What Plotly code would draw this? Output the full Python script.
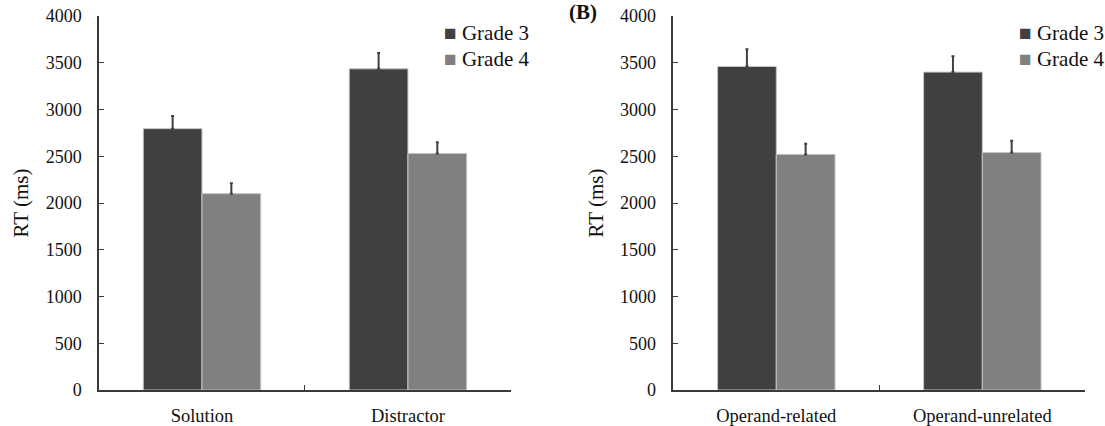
import plotly.graph_objects as go

# Reaction times (ms) by condition and grade, with upward standard-error bars
cond_a = ["Solution", "Distractor"]
g3_a = [2795, 3435]
g3_a_err = [135, 170]
g4_a = [2100, 2530]
g4_a_err = [110, 120]

cond_b = ["Operand-related", "Operand-unrelated"]
g3_b = [3460, 3400]
g3_b_err = [185, 170]
g4_b = [2520, 2540]
g4_b_err = [115, 125]

y_ticks = [0, 500, 1000, 1500, 2000, 2500, 3000, 3500, 4000]
series_names = ["Grade 3", "Grade 4"]

DARK = "#404040"
GRAY = "#808080"
AXIS = "#3a3a3a"
SERIF = "Liberation Serif"
colors = [DARK, GRAY]


def bar(name, x, y, err, color, xa, ya):
    return go.Bar(
        name=name, x=x, y=y, showlegend=False,
        marker=dict(color=color, line=dict(color="#c4c4c4", width=1)),
        error_y=dict(type="data", array=err, arrayminus=[0] * len(err),
                     symmetric=False, color=DARK, thickness=2, width=1.5),
        xaxis=xa, yaxis=ya,
    )


fig = go.Figure()
fig.add_trace(bar(series_names[0], cond_a, g3_a, g3_a_err, DARK, "x", "y"))
fig.add_trace(bar(series_names[1], cond_a, g4_a, g4_a_err, GRAY, "x", "y"))
fig.add_trace(bar(series_names[0], cond_b, g3_b, g3_b_err, DARK, "x2", "y2"))
fig.add_trace(bar(series_names[1], cond_b, g4_b, g4_b_err, GRAY, "x2", "y2"))

xcommon = dict(type="category", showline=True, linecolor=AXIS, linewidth=1.5,
               ticks="inside", tickson="boundaries", ticklen=5, tickcolor=AXIS,
               showgrid=False, zeroline=False, ticklabelstandoff=8,
               tickfont=dict(family=SERIF, size=18.5, color="#111"))
ycommon = dict(range=[0, 4000], tickvals=y_ticks, showline=True, linecolor=AXIS,
               linewidth=1.5, ticks="inside", ticklen=5, tickcolor=AXIS,
               showgrid=False, zeroline=False, ticklabelstandoff=12,
               tickfont=dict(family=SERIF, size=18, color="#111"),
               title=dict(text="RT (ms)", standoff=11,
                          font=dict(family=SERIF, size=21, color="#111")))

# Compact legend keys: a filled square in the series colour followed by its name
legend_notes = []
for lx in (0.4, 0.9204):
    for i, (nm, col) in enumerate(zip(series_names, colors)):
        legend_notes.append(dict(
            text=f"<span style='color:{col}'>■</span> {nm}",
            x=lx, y=0.9545 - i * 0.0695, xref="paper", yref="paper",
            xanchor="left", yanchor="middle", showarrow=False,
            font=dict(family=SERIF, size=21, color="#111")))

fig.update_layout(
    width=1105, height=426,
    font=dict(family=SERIF, color="#111"),
    margin=dict(l=0, r=0, t=16, b=36),
    paper_bgcolor="white", plot_bgcolor="white",
    barmode="group", bargap=0.43, bargroupgap=0,
    xaxis=dict(domain=[0.0896, 0.4624], anchor="y", **xcommon),
    yaxis=dict(domain=[0, 1], anchor="x", **ycommon),
    xaxis2=dict(domain=[0.6093, 0.9822], anchor="y2", **xcommon),
    yaxis2=dict(domain=[0, 1], anchor="x2", **ycommon),
    annotations=legend_notes + [
        dict(text="<b>(B)</b>", x=0.513, y=1.01, xref="paper", yref="paper",
             xanchor="left", yanchor="middle", showarrow=False,
             font=dict(family=SERIF, size=21, color="#111"))],
)

fig.write_html("out.html")
